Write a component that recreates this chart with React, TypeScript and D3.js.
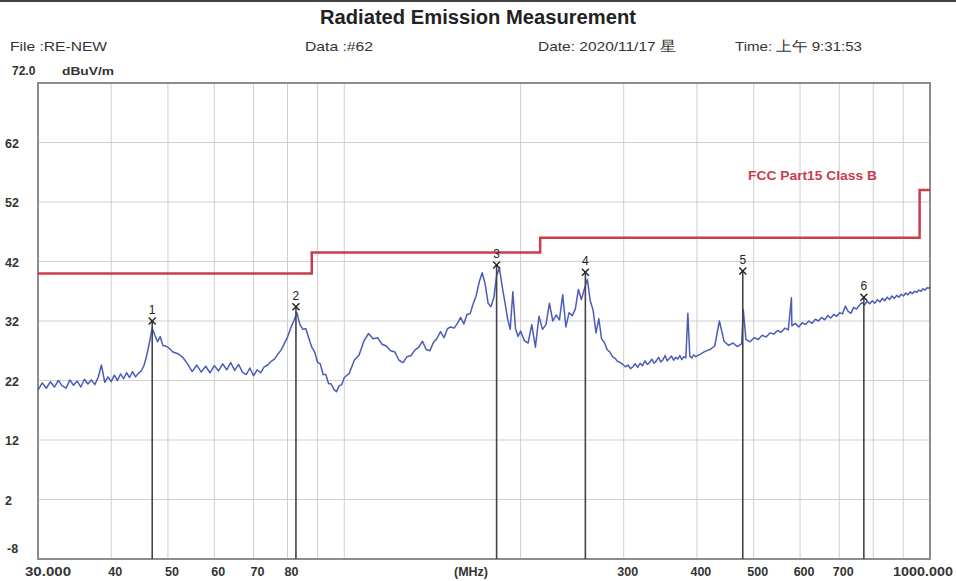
import React from 'react';
import * as d3 from 'd3';

const W = 956;
const H = 581;

const titleText = 'Radiated Emission Measurement';
const headerTexts = ['File :RE-NEW', 'Data :#62', 'Date: 2020/11/17 星', 'Time: 上午 9:31:53'];
const headerX = [10, 305, 538, 735];
const headerWidths = [97, 68, 138, 127];

const yTickValues = [62, 52, 42, 32, 22, 12, 2];
const yTickLabels = ['62', '52', '42', '32', '22', '12', '2'];
const yGridValues = [62, 52, 42, 32, 22, 12, 2];

const xGridValues = [40, 50, 60, 70, 80, 90, 100, 200, 300, 400, 500, 600, 700, 800, 900];
const xTickValues = [40, 50, 60, 70, 80, 300, 400, 500, 600, 700];
const xTickLabels = ['40', '50', '60', '70', '80', '300', '400', '500', '600', '700'];

const limitBreaks = [30, 88, 216, 960, 1000];
const limitLevels = [40, 43.5, 46, 54, 54];

const markerFreqs = [47, 82.7, 182, 258, 479, 771];
const markerLevels = [32.0, 34.4, 41.4, 40.2, 40.4, 36.0];
const markerLabels = ['1', '2', '3', '4', '5', '6'];

const traceFreqs = [
  30, 30.5, 31, 31.5, 32, 32.5, 33, 33.5, 34, 34.5, 35, 35.5, 36, 36.5, 37, 37.5, 38, 38.5, 39, 39.5,
  40, 40.5, 41, 41.5, 42, 42.5, 43, 43.5, 44, 44.5, 45,
  45.5, 46, 46.5, 47, 47.5, 48, 48.5, 49, 49.5, 50,
  51, 52, 53, 54, 55, 56, 57, 58, 59, 60, 61, 62, 63, 64, 65, 66, 67, 68, 69, 70,
  71, 72, 73, 74, 75, 76, 77, 78, 79, 80, 81, 82, 83, 84, 85, 86, 87, 88, 89, 90,
  91, 92, 93, 94, 95, 96, 97, 98, 99, 100,
  102, 104, 106, 108, 110, 112, 114, 116, 118, 120, 122, 124, 126, 128, 130, 132, 134, 136, 138, 140,
  142, 144, 146, 148, 150, 152, 154, 156, 158, 160, 162, 164, 166, 168, 170, 172, 174, 176, 178, 180,
  182, 184, 186, 188, 190, 192, 194, 196, 198, 200,
  203, 206, 209, 212, 215, 218, 221, 224, 227, 230, 233, 236, 239, 242, 245, 248, 251, 254, 257, 260,
  263, 266, 269, 272, 275, 278, 281, 284, 287, 290, 293, 296, 299, 302, 305, 308, 311, 314, 317, 320,
  323, 326, 329, 332, 335, 338, 341, 344, 347, 350, 353, 356, 359, 362, 365, 368, 371, 374, 377, 380,
  383, 386, 389, 392, 395, 398,
  405, 413, 421, 429, 437, 445, 453, 461, 469, 477, 480, 485, 493, 501, 509, 517, 525, 533, 541, 549,
  557, 565, 573, 580, 581, 589, 597, 605, 613, 621, 629, 637, 645, 653, 661, 669, 677, 685, 693, 701,
  709, 717, 725, 733, 741, 749, 757, 765, 773, 781, 789, 797, 805, 813, 821, 829, 837, 845, 853, 861,
  869, 877, 885, 893, 901, 909, 917, 925, 933, 941, 949, 957, 965, 973, 981, 989, 997, 1000,
];

const traceLevels = [
  20.4, 21.6, 20.7, 21.8, 20.9, 22.0, 21.1, 20.7, 22.1, 21.2, 21.9, 20.9, 22.2, 21.4, 22.1, 21.3, 22.5, 24.6, 21.7, 22.6,
  21.8, 22.9, 22.0, 23.1, 22.3, 23.3, 22.5, 23.5, 22.6, 23.2, 23.6,
  24.5, 26.2, 28.4, 30.8, 29.6, 28.5, 29.4, 27.9, 27.8, 27.6,
  26.8, 26.5, 25.9, 24.8, 23.5, 24.6, 23.4, 24.4, 23.3, 24.5, 23.6, 24.8, 23.8, 25.0, 23.7, 24.7, 23.4, 23.0, 24.1, 22.8,
  23.8, 23.3, 24.3, 24.6, 25.2, 25.6, 26.4, 27.1, 28.2, 29.3, 30.8, 32.0, 33.4, 31.4, 30.6, 30.7, 29.1, 27.6, 26.8, 25.1,
  24.8, 23.0, 23.0, 21.5, 21.4, 20.5, 20.1, 21.1, 21.3, 22.5,
  23.2, 25.4, 26.3, 28.6, 29.9, 29.0, 29.2, 28.1, 27.8, 27.0, 26.8, 25.4, 25.0, 26.0, 26.2, 27.1, 27.6, 28.6, 27.2, 27.0,
  28.4, 29.1, 30.2, 29.2, 30.7, 31.0, 30.8, 31.6, 32.6, 31.5, 33.1, 33.2, 34.9, 36.3, 38.6, 40.1, 38.2, 35.0, 34.4, 35.9,
  39.6, 40.9, 37.8, 35.2, 32.4, 30.6, 36.9, 30.8, 29.4, 30.3,
  28.7, 28.3, 31.4, 27.6, 32.8, 30.6, 31.4, 35.0, 32.0, 33.0, 32.2, 36.4, 31.0, 33.4, 32.9, 34.0, 37.3, 35.6, 37.4, 39.0,
  35.4, 33.8, 30.0, 32.4, 29.0, 28.4, 27.2, 26.8, 26.0, 25.7, 25.2, 25.0, 24.7, 24.3, 24.6, 24.0, 24.3, 24.8, 24.2, 24.9,
  24.5, 25.3, 24.7, 25.0, 25.6, 24.9, 25.3, 25.9, 25.1, 25.5, 26.2, 25.3, 25.7, 26.1, 25.4, 25.9, 25.6, 26.2, 25.5, 26.0,
  25.8, 33.3, 26.1, 25.8, 26.3, 26.0,
  26.4, 26.9, 27.2, 27.8, 32.0, 28.6, 27.9, 28.3, 27.7, 28.2, 33.9, 28.9, 28.5, 29.2, 28.9, 29.6, 29.3, 30.0, 29.8, 30.4,
  30.1, 30.8, 30.5, 35.9, 31.2, 31.6, 31.0, 31.7, 31.4, 32.0, 31.6, 32.3, 32.0, 32.6, 32.2, 32.9, 32.5, 33.1, 32.8, 33.4,
  33.2, 34.5, 33.6, 33.3, 34.3, 34.0, 34.6, 35.1, 34.7, 35.3, 34.9, 35.4, 35.0, 35.6, 35.2, 35.8, 35.4, 36.0, 35.6, 36.2,
  35.8, 36.3, 36.0, 36.5, 36.2, 36.7, 36.4, 36.9, 36.6, 37.0, 36.8, 37.2, 37.0, 37.4, 37.2, 37.6, 37.5, 37.8,
];

const FONT = '"Liberation Sans", Arial, sans-serif';

export default function App() {
  const left = 38;
  const right = 930;
  const top = 83;
  const bottom = 559;

  const x = d3.scaleLog().domain([30, 1000]).range([left, right]);
  const y = d3.scaleLinear().domain([-8, 72]).range([bottom, top]);

  const tracePts: [number, number][] = traceFreqs.map((f, i) => [f, traceLevels[i]]);
  const traceLine = d3
    .line<[number, number]>()
    .x((d) => x(d[0]))
    .y((d) => y(d[1]));

  const limitPts: [number, number][] = limitBreaks.map((f, i) => [f, limitLevels[i]]);
  const limitLine = d3
    .line<[number, number]>()
    .x((d) => x(d[0]))
    .y((d) => y(d[1]))
    .curve(d3.curveStepAfter);

  const labelStyle = { fontFamily: FONT, fontWeight: 'bold' as const, fontSize: 12.5, fill: '#333' };

  return (
    <svg
      width={W}
      height={H}
      viewBox={`0 0 ${W} ${H}`}
      style={{ position: 'absolute', left: 0, top: 0, background: '#fff' }}
    >
      <rect x={0} y={0} width={W} height={H} fill="#fff" />
      <line x1={0} x2={W} y1={1} y2={1} stroke="#444" strokeWidth={2} />

      <text
        x={478}
        y={24}
        textAnchor="middle"
        fontFamily={FONT}
        fontWeight="bold"
        fontSize={19.5}
        fill="#222"
        textLength={316}
        lengthAdjust="spacingAndGlyphs"
      >
        {titleText}
      </text>
      {headerTexts.map((t, i) => (
        <text
          key={t}
          x={headerX[i]}
          y={51}
          fontFamily={FONT}
          fontSize={13.5}
          fill="#333"
          textLength={headerWidths[i]}
          lengthAdjust="spacingAndGlyphs"
        >
          {t}
        </text>
      ))}
      <text x={12} y={75} fontFamily={FONT} fontWeight="bold" fontSize={12} fill="#333">
        72.0
      </text>
      <text x={62} y={75} fontFamily={FONT} fontWeight="bold" fontSize={11.5} fill="#333" textLength={52} lengthAdjust="spacingAndGlyphs">
        dBuV/m
      </text>

      {/* grid */}
      {yGridValues.map((v) => (
        <line key={'yg' + v} x1={left} x2={right} y1={y(v)} y2={y(v)} stroke="#cfcfcf" strokeWidth={1} />
      ))}
      {xGridValues.map((v) => (
        <line key={'xg' + v} x1={x(v)} x2={x(v)} y1={top} y2={bottom} stroke="#cfcfcf" strokeWidth={1} />
      ))}

      {/* frame */}
      <rect x={left} y={top} width={right - left} height={bottom - top} fill="none" stroke="#8c8c8c" strokeWidth={2} />

      {/* y labels */}
      {yTickValues.map((v, i) => (
        <text key={'yl' + v} x={5} y={y(v) + 5} {...labelStyle}>
          {yTickLabels[i]}
        </text>
      ))}
      <text x={7} y={553} {...labelStyle}>
        -8
      </text>

      {/* x labels */}
      <text x={48} y={576} textAnchor="middle" {...labelStyle} textLength={46} lengthAdjust="spacingAndGlyphs">
        30.000
      </text>
      {xTickValues.map((v, i) => (
        <text key={'xl' + v} x={x(v) + 4} y={576} textAnchor="middle" {...labelStyle}>
          {xTickLabels[i]}
        </text>
      ))}
      <text x={471} y={576} textAnchor="middle" {...labelStyle}>
        (MHz)
      </text>
      <text x={923} y={576} textAnchor="middle" {...labelStyle} textLength={60} lengthAdjust="spacingAndGlyphs">
        1000.000
      </text>

      {/* limit */}
      <path d={limitLine(limitPts) || ''} fill="none" stroke="#cc3d4c" strokeWidth={2.5} />
      <text
        x={748}
        y={180}
        fontFamily={FONT}
        fontWeight="bold"
        fontSize={13}
        fill="#cc3d4c"
        textLength={129}
        lengthAdjust="spacingAndGlyphs"
      >
        FCC Part15 Class B
      </text>

      {/* trace */}
      <path d={traceLine(tracePts) || ''} fill="none" stroke="#4b5cb8" strokeWidth={1.5} strokeLinejoin="round" />

      {/* markers */}
      {markerFreqs.map((f, i) => {
        const mx = x(f);
        const my = y(markerLevels[i]);
        return (
          <g key={'m' + i}>
            <line x1={mx} x2={mx} y1={my} y2={bottom} stroke="#444" strokeWidth={1.6} />
            <line x1={mx - 3.5} x2={mx + 3.5} y1={my - 3.5} y2={my + 3.5} stroke="#222" strokeWidth={1.4} />
            <line x1={mx - 3.5} x2={mx + 3.5} y1={my + 3.5} y2={my - 3.5} stroke="#222" strokeWidth={1.4} />
            <text x={mx} y={my - 7} textAnchor="middle" fontFamily={FONT} fontSize={12} fill="#222">
              {markerLabels[i]}
            </text>
          </g>
        );
      })}
    </svg>
  );
}
